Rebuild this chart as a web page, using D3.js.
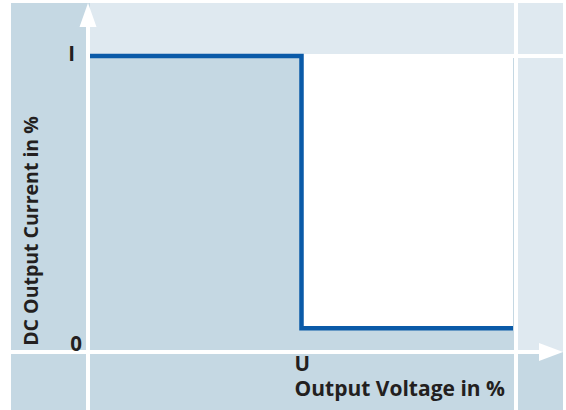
<!DOCTYPE html>
<html>
<head>
<meta charset="utf-8">
<script src="https://cdn.jsdelivr.net/npm/d3@7"></script>
<style>
  body { margin: 0; background: #fff; }
  text { font-family: "Open Sans", sans-serif; font-weight: bold; fill: #231f20; }
</style>
</head>
<body>
<div id="chart"></div>
<script>
// Current limiting characteristic (values in %)
const voltage = [0, 50, 50, 100];
const current = [100, 100, 8, 8];
const xTickValues = [50];
const xTickLabels = ['U'];
const yTickValues = [100, 0];
const yTickLabels = ['I', '0'];
const xTitle = 'Output Voltage in %';
const yTitle = 'DC Output Current in %';

const W = 566, H = 410;
const panel = { left: 11, top: 3, right: 563, bottom: 410 };
const plot = { left: 90, top: 56, right: 513, bottom: 352 };

const x = d3.scaleLinear().domain([0, 100]).range([plot.left, plot.right]);
const y = d3.scaleLinear().domain([0, 100]).range([plot.bottom, plot.top]);

const svg = d3.select('#chart').append('svg')
  .attr('width', W)
  .attr('height', H);

const dark = '#c5d8e3', light = '#dfe9f0', lineBlue = '#0a5aa8';
const fs = 20.5;

// background panel
svg.append('rect')
  .attr('x', panel.left).attr('y', panel.top)
  .attr('width', panel.right - panel.left).attr('height', panel.bottom - panel.top)
  .attr('fill', dark);

// lighter bands: top strip and right column
svg.append('rect')
  .attr('x', plot.left).attr('y', panel.top)
  .attr('width', panel.right - plot.left).attr('height', plot.top - panel.top)
  .attr('fill', light);
svg.append('rect')
  .attr('x', 516).attr('y', panel.top)
  .attr('width', panel.right - 516).attr('height', plot.bottom - panel.top)
  .attr('fill', light);

const pts = voltage.map((v, i) => ({ v, c: current[i] }));

// white region above the curve
svg.append('path')
  .datum(pts)
  .attr('fill', '#fff')
  .attr('d', d3.area()
    .x(d => x(d.v))
    .y0(y(100) - 2)
    .y1(d => y(d.c)));

// white grid lines
svg.append('line')
  .attr('x1', 516).attr('x2', 516)
  .attr('y1', panel.top).attr('y2', panel.bottom)
  .attr('stroke', '#fff').attr('stroke-width', 4);
svg.append('line')
  .attr('x1', plot.left - 2).attr('x2', panel.right)
  .attr('y1', y(100)).attr('y2', y(100))
  .attr('stroke', '#fff').attr('stroke-width', 4);

// axes with arrow heads
svg.append('line')
  .attr('x1', 88).attr('x2', 88)
  .attr('y1', panel.bottom).attr('y2', 20)
  .attr('stroke', '#fff').attr('stroke-width', 4);
svg.append('path')
  .attr('d', `M88,${panel.top}L96.5,27L79.5,27Z`)
  .attr('fill', '#fff');
svg.append('line')
  .attr('x1', panel.left).attr('x2', 545)
  .attr('y1', y(0)).attr('y2', y(0))
  .attr('stroke', '#fff').attr('stroke-width', 4);
svg.append('path')
  .attr('d', `M${panel.right},${y(0)}L539,${y(0) - 9}L539,${y(0) + 9}Z`)
  .attr('fill', '#fff');

// characteristic line
svg.append('path')
  .datum(pts)
  .attr('fill', 'none')
  .attr('stroke', lineBlue)
  .attr('stroke-width', 4.5)
  .attr('stroke-linejoin', 'miter')
  .attr('d', d3.line().x(d => x(d.v)).y(d => y(d.c)));

// tick labels
svg.selectAll('.ytick')
  .data(yTickValues)
  .enter().append('text')
  .attr('class', 'ytick')
  .attr('x', (d, i) => i === 0 ? 75 : 82)
  .attr('y', (d, i) => i === 0 ? y(d) + 5 : y(d) - 1)
  .attr('text-anchor', 'end')
  .attr('font-size', fs)
  .text((d, i) => yTickLabels[i]);

svg.selectAll('.xtick')
  .data(xTickValues)
  .enter().append('text')
  .attr('class', 'xtick')
  .attr('x', d => x(d) - 7)
  .attr('y', 371)
  .attr('font-size', fs)
  .text((d, i) => xTickLabels[i]);

// titles
svg.append('text')
  .attr('x', x(50) - 7)
  .attr('y', 396)
  .attr('font-size', 21)
  .text(xTitle);

svg.append('text')
  .attr('transform', 'translate(38,231) rotate(-90)')
  .attr('text-anchor', 'middle')
  .attr('font-size', 19.5)
  .text(yTitle);
</script>
</body>
</html>
